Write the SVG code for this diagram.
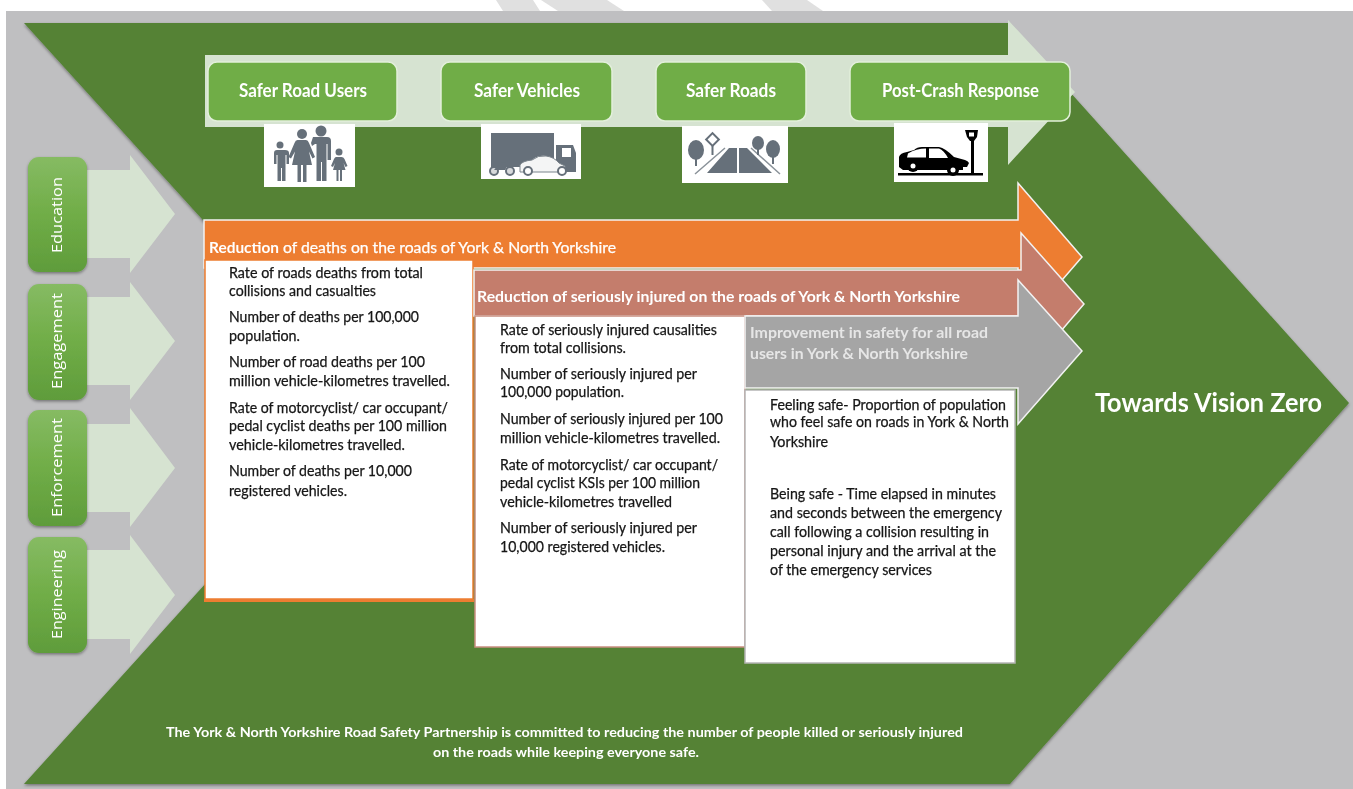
<svg xmlns="http://www.w3.org/2000/svg" width="1353" height="789" viewBox="0 0 1353 789">
<style>
text{font-family:"Lato","Liberation Sans",sans-serif}
.body{font-size:14.5px;fill:#151515;stroke:#151515;stroke-width:0.25;filter:url(#soft)}
.head{font-size:15.5px;font-weight:700;fill:#fff;filter:url(#soft)}
.btn{font-size:18px;font-weight:700;fill:#fff;filter:url(#soft)}
.pill{font-family:"Open Sans","Liberation Sans",sans-serif;font-size:14.5px;fill:#fff;filter:url(#soft)}
.foot{font-size:14px;font-weight:700;fill:#fff;filter:url(#soft)}
.card{fill:#70ad47;stroke:#e2efda;stroke-width:1.5}
.ico{fill:#fff}
.g{fill:#66707a}
.k{fill:#000}
.flow{fill:#d6e3d1}
.ribbon{stroke:#f2f2f2;stroke-width:1.5}
</style>
<defs>
<filter id="soft" x="-5%" y="-20%" width="110%" height="140%"><feGaussianBlur stdDeviation="0.35"/></filter>
<filter id="iconblur" x="-5%" y="-5%" width="110%" height="110%"><feGaussianBlur stdDeviation="0.5"/></filter>
<filter id="shadow" x="-5%" y="-5%" width="110%" height="110%"><feDropShadow dx="0" dy="1.5" stdDeviation="1.5" flood-color="#000" flood-opacity="0.4"/></filter>
<linearGradient id="pillfill" x1="0" y1="0" x2="0" y2="1"><stop offset="0" stop-color="#86bb63"/><stop offset="0.5" stop-color="#70ad47"/><stop offset="1" stop-color="#5f9c3b"/></linearGradient>
</defs>

<rect x="0" y="0" width="1353" height="789" fill="#fff"/>
<g id="backdrop">
<polygon points="496,0 533,0 540,11 503,11" fill="#e0e0e0"/>
<polygon points="541,0 607,0 624,11 558,11" fill="#e0e0e0"/>
<polygon points="762,0 807,0 823,11 772,11" fill="#e0e0e0"/>
<rect x="6" y="11" width="1347" height="778" fill="#bfbfc1"/>
</g>

<g id="chevron">
<polygon points="24,23 1008,23 1349,403 1010,784 24,784 369,403" fill="#548235" filter="url(#shadow)"/>
</g>

<g id="pillars-band">
<polygon points="205,55 1008,55 1008,20 1075,92 1008,165 1008,127 205,127" class="flow"/>
</g>

<g id="connectors">
<polygon class="flow" points="87,170 130,170 130,155 175,214 130,273 130,258 87,258"/>
<polygon class="flow" points="87,297 130,297 130,282 175,341 130,400 130,385 87,385"/>
<polygon class="flow" points="87,424 130,424 130,408 175,468 130,527 130,512 87,512"/>
<polygon class="flow" points="87,550 130,550 130,535 175,595 130,654 130,639 87,639"/>
</g>

<g id="node-education"><rect x="28" y="157" width="59" height="115" rx="11" fill="url(#pillfill)" filter="url(#shadow)"/>
<text class="pill" transform="translate(62,253) rotate(-90)" textLength="76" lengthAdjust="spacingAndGlyphs">Education</text></g>
<g id="node-engagement"><rect x="28" y="284" width="59" height="116" rx="11" fill="url(#pillfill)" filter="url(#shadow)"/>
<text class="pill" transform="translate(62,389) rotate(-90)" textLength="96" lengthAdjust="spacingAndGlyphs">Engagement</text></g>
<g id="node-enforcement"><rect x="28" y="410" width="59" height="116" rx="11" fill="url(#pillfill)" filter="url(#shadow)"/>
<text class="pill" transform="translate(62,517) rotate(-90)" textLength="99" lengthAdjust="spacingAndGlyphs">Enforcement</text></g>
<g id="node-engineering"><rect x="28" y="537" width="59" height="116" rx="11" fill="url(#pillfill)" filter="url(#shadow)"/>
<text class="pill" transform="translate(62,639) rotate(-90)" textLength="89" lengthAdjust="spacingAndGlyphs">Engineering</text></g>

<g id="node-safer-road-users">
<rect class="card" x="208" y="62" width="189" height="59" rx="9"/>
<text class="btn" x="239" y="97" textLength="128" lengthAdjust="spacingAndGlyphs">Safer Road Users</text>
<rect class="ico" x="264" y="124" width="91" height="63"/>
<g filter="url(#iconblur)" class="g">
<circle cx="321" cy="131" r="5.500"/>
<path d="M315 137h12q4 0 4 4v19h-3.500v-16h-1v37h-4.500v-19h-1v19h-4.500v-37h-1.500l-3 2 -1-3 2-6z"/>
<circle cx="302" cy="134" r="5"/>
<path d="M298 140h8q2 0 3 3l6 14-2.500 1.500-3.500-7 3 13.500h-5.500v17h-3.500v-17h-2v17h-3.500v-17h-5.500l3-13.500-4 7-2.500-1.500 6-14q1-3 3-3z"/>
<circle cx="280" cy="145" r="3.500"/>
<path d="M276 150h9q4 0 4 3v11h-2.500v-9h-1v26h-3.500v-13h-1v13h-3.500v-26h-1v9h-2.500v-11q0-3 3-3z"/>
<circle cx="339" cy="152" r="3.500"/>
<path d="M336.500 157h5q2 0 3 2l3 7-2 1-2-4 2 7h-3.500v11h-2v-11h-1.500v11h-2v-11h-3.500l2-7-2 4-2-1 3-7q1-2 2-2z"/>
</g>
</g>

<g id="node-safer-vehicles">
<rect class="card" x="441" y="62" width="171" height="59" rx="9"/>
<text class="btn" x="474" y="97" textLength="106" lengthAdjust="spacingAndGlyphs">Safer Vehicles</text>
<rect class="ico" x="481" y="124" width="100" height="55"/>
<g filter="url(#iconblur)">
<rect class="g" x="491" y="133" width="63" height="33"/>
<path class="g" d="M556 145h17l3 8v19h-20z"/><rect x="562" y="148" width="9" height="9" fill="#fff"/>
<rect class="g" x="491" y="164" width="30" height="3"/>
<path d="M520 172v-7q2-4 12-5 6-5 14-4 8 1 13 7l6 3v6z" fill="#f4f5f5" stroke="#7b848c" stroke-width="1"/>
<circle cx="528" cy="171" r="4" fill="#fff" stroke="#66707a" stroke-width="2"/><circle cx="562" cy="171" r="4" fill="#fff" stroke="#66707a" stroke-width="2"/>
<circle cx="494" cy="171" r="4" fill="#d8dadc" stroke="#66707a" stroke-width="2"/><circle cx="510" cy="171" r="4" fill="#d8dadc" stroke="#66707a" stroke-width="2"/>
<path class="g" d="M494 170l6-7 6-1 5-4 1 3-4 4-3 5h-7z"/>
</g>
</g>

<g id="node-safer-roads">
<rect class="card" x="656" y="62" width="150" height="59" rx="9"/>
<text class="btn" x="686" y="97" textLength="90" lengthAdjust="spacingAndGlyphs">Safer Roads</text>
<rect class="ico" x="682" y="126" width="106" height="57"/>
<g filter="url(#iconblur)">
<path class="g" d="M729 148h8v25h-30zM739 148h8l25 25h-33z"/>
<path d="M725 148l-30 26M751 148l29 26" stroke="#8a9299" stroke-width="1.500" fill="none"/>
<path d="M738 151v5M738 160v6" stroke="#fff" stroke-width="1.500"/>
<ellipse class="g" cx="696" cy="150" rx="8" ry="10"/><rect class="g" x="695" y="155" width="2" height="11"/>
<ellipse class="g" cx="758" cy="143" rx="6" ry="7"/><rect class="g" x="757" y="146" width="2" height="9"/>
<ellipse class="g" cx="773" cy="149" rx="7" ry="9"/><rect class="g" x="772" y="155" width="2" height="9"/>
<rect x="708" y="135" width="9" height="9" fill="#fff" stroke="#66707a" stroke-width="2" transform="rotate(45 712.500 139.500)"/><rect class="g" x="711.500" y="146" width="2" height="9"/>
</g>
</g>

<g id="node-post-crash">
<rect class="card" x="850" y="62" width="220" height="59" rx="9"/>
<text class="btn" x="882" y="97" textLength="157" lengthAdjust="spacingAndGlyphs">Post-Crash Response</text>
<rect class="ico" x="894" y="123" width="94" height="59"/>
<g filter="url(#iconblur)" class="k">
<rect x="898" y="173" width="85" height="2.500"/>
<rect x="971" y="140" width="3" height="34"/>
<path d="M965 130h13l-1 7-3 4h-4l-3-4z"/><rect x="969" y="132.500" width="5" height="4" fill="#fff"/>
<path d="M899 165v-8q1-4 8-5l7-2q3-3 8-3h17q6 1 15 10l11 3q3 1 4 3l-2 4h-4v3h-60l-4-3z"/>
<path d="M908 153.500q8-5 18-5v9h-19zM929 148.500h10q5 2 9 9.500h-19z" fill="#fff"/>
<circle cx="913" cy="166" r="6"/><circle cx="913" cy="166" r="2.500" fill="#fff"/>
<circle cx="953" cy="170" r="6"/><circle cx="953" cy="170" r="2.500" fill="#fff"/>
</g>
</g>

<g id="node-deaths">
<polygon class="ribbon" fill="#ed7d31" points="204,220 1018,220 1018,183 1082,257 1018,331 1018,268 204,268"/>
<text class="head" x="209" y="253" textLength="70" lengthAdjust="spacingAndGlyphs">Reduction</text>
<text class="head" x="283" y="253" textLength="333" lengthAdjust="spacingAndGlyphs" style="font-weight:400;stroke:#fff;stroke-width:0.25">of deaths on the roads of York &amp; North Yorkshire</text>
<rect x="205" y="260" width="268" height="339" fill="#fff" stroke="#ed7d31" stroke-width="1.500"/>
<rect x="204" y="599" width="270" height="3" fill="#ed7d31"/>
<g transform="translate(0,-1)">
<text class="body" x="229" y="279" textLength="194" lengthAdjust="spacingAndGlyphs">Rate of roads deaths from total</text>
<text class="body" x="229" y="297" textLength="147" lengthAdjust="spacingAndGlyphs">collisions and casualties</text>
<text class="body" x="229" y="323" textLength="190" lengthAdjust="spacingAndGlyphs">Number of deaths per 100,000</text>
<text class="body" x="229" y="342" textLength="71" lengthAdjust="spacingAndGlyphs">population.</text>
<text class="body" x="229" y="368" textLength="196" lengthAdjust="spacingAndGlyphs">Number of road deaths per 100</text>
<text class="body" x="229" y="387" textLength="221" lengthAdjust="spacingAndGlyphs">million vehicle-kilometres travelled.</text>
<text class="body" x="229" y="414" textLength="219" lengthAdjust="spacingAndGlyphs">Rate of motorcyclist/ car occupant/</text>
<text class="body" x="229" y="432" textLength="218" lengthAdjust="spacingAndGlyphs">pedal cyclist deaths per 100 million</text>
<text class="body" x="229" y="451" textLength="176" lengthAdjust="spacingAndGlyphs">vehicle-kilometres travelled.</text>
<text class="body" x="229" y="477" textLength="183" lengthAdjust="spacingAndGlyphs">Number of deaths per 10,000</text>
<text class="body" x="229" y="497" textLength="118" lengthAdjust="spacingAndGlyphs">registered vehicles.</text>
</g>
</g>

<g id="node-injured">
<polygon class="ribbon" fill="#c47d6c" points="474,270 1021,270 1021,233 1084,304 1021,378 1021,316 474,316"/>
<text class="head" x="477" y="302" textLength="483" lengthAdjust="spacingAndGlyphs">Reduction of seriously injured on the roads of York &amp; North Yorkshire</text>
<rect x="475" y="316" width="270" height="331" fill="#fff" stroke="#c98e80" stroke-width="1.500"/>
<g transform="translate(0,-1)">
<text class="body" x="500" y="336" textLength="217" lengthAdjust="spacingAndGlyphs">Rate of seriously injured causalities</text>
<text class="body" x="500" y="354" textLength="126" lengthAdjust="spacingAndGlyphs">from total collisions.</text>
<text class="body" x="500" y="380" textLength="197" lengthAdjust="spacingAndGlyphs">Number of seriously injured per</text>
<text class="body" x="500" y="398" textLength="124" lengthAdjust="spacingAndGlyphs">100,000 population.</text>
<text class="body" x="500" y="425" textLength="223" lengthAdjust="spacingAndGlyphs">Number of seriously injured per 100</text>
<text class="body" x="500" y="444" textLength="220" lengthAdjust="spacingAndGlyphs">million vehicle-kilometres travelled.</text>
<text class="body" x="500" y="471" textLength="218" lengthAdjust="spacingAndGlyphs">Rate of motorcyclist/ car occupant/</text>
<text class="body" x="500" y="489" textLength="200" lengthAdjust="spacingAndGlyphs">pedal cyclist KSIs per 100 million</text>
<text class="body" x="500" y="508" textLength="172" lengthAdjust="spacingAndGlyphs">vehicle-kilometres travelled</text>
<text class="body" x="500" y="534" textLength="197" lengthAdjust="spacingAndGlyphs">Number of seriously injured per</text>
<text class="body" x="500" y="553" textLength="165" lengthAdjust="spacingAndGlyphs">10,000 registered vehicles.</text>
</g>
</g>

<g id="node-safety">
<polygon class="ribbon" fill="#a5a5a5" points="745,316 1018,316 1018,280 1082,351 1018,424 1018,388 745,388"/>
<text class="head" x="750" y="338" textLength="238" lengthAdjust="spacingAndGlyphs" style="fill:#e6e6e6">Improvement in safety for all road</text>
<text class="head" x="750" y="359" textLength="218" lengthAdjust="spacingAndGlyphs" style="fill:#e6e6e6">users in York &amp; North Yorkshire</text>
<rect x="745" y="390" width="270" height="273" fill="#fff" stroke="#b5b5b5" stroke-width="1.500"/>
<g transform="translate(0,-1)">
<text class="body" x="770" y="411" textLength="236" lengthAdjust="spacingAndGlyphs">Feeling safe- Proportion of population</text>
<text class="body" x="770" y="428" textLength="239" lengthAdjust="spacingAndGlyphs">who feel safe on roads in York &amp; North</text>
<text class="body" x="770" y="448" textLength="58" lengthAdjust="spacingAndGlyphs">Yorkshire</text>
<text class="body" x="770" y="500" textLength="226" lengthAdjust="spacingAndGlyphs">Being safe - Time elapsed in minutes</text>
<text class="body" x="770" y="519" textLength="232" lengthAdjust="spacingAndGlyphs">and seconds between the emergency</text>
<text class="body" x="770" y="538" textLength="219" lengthAdjust="spacingAndGlyphs">call following a collision resulting in</text>
<text class="body" x="770" y="557" textLength="226" lengthAdjust="spacingAndGlyphs">personal injury and the arrival at the</text>
<text class="body" x="770" y="576" textLength="162" lengthAdjust="spacingAndGlyphs">of the emergency services</text>
</g>
</g>

<g id="node-vision">
<text x="1095" y="412" textLength="227" lengthAdjust="spacingAndGlyphs" font-size="26" font-weight="700" fill="#fff" filter="url(#soft)">Towards Vision Zero</text>
</g>

<g id="node-statement">
<text class="foot" x="166" y="737" textLength="797" lengthAdjust="spacingAndGlyphs">The York &amp; North Yorkshire Road Safety Partnership is committed to reducing the number of people killed or seriously injured</text>
<text class="foot" x="433" y="757" textLength="266" lengthAdjust="spacingAndGlyphs">on the roads while keeping everyone safe.</text>
</g>
</svg>
